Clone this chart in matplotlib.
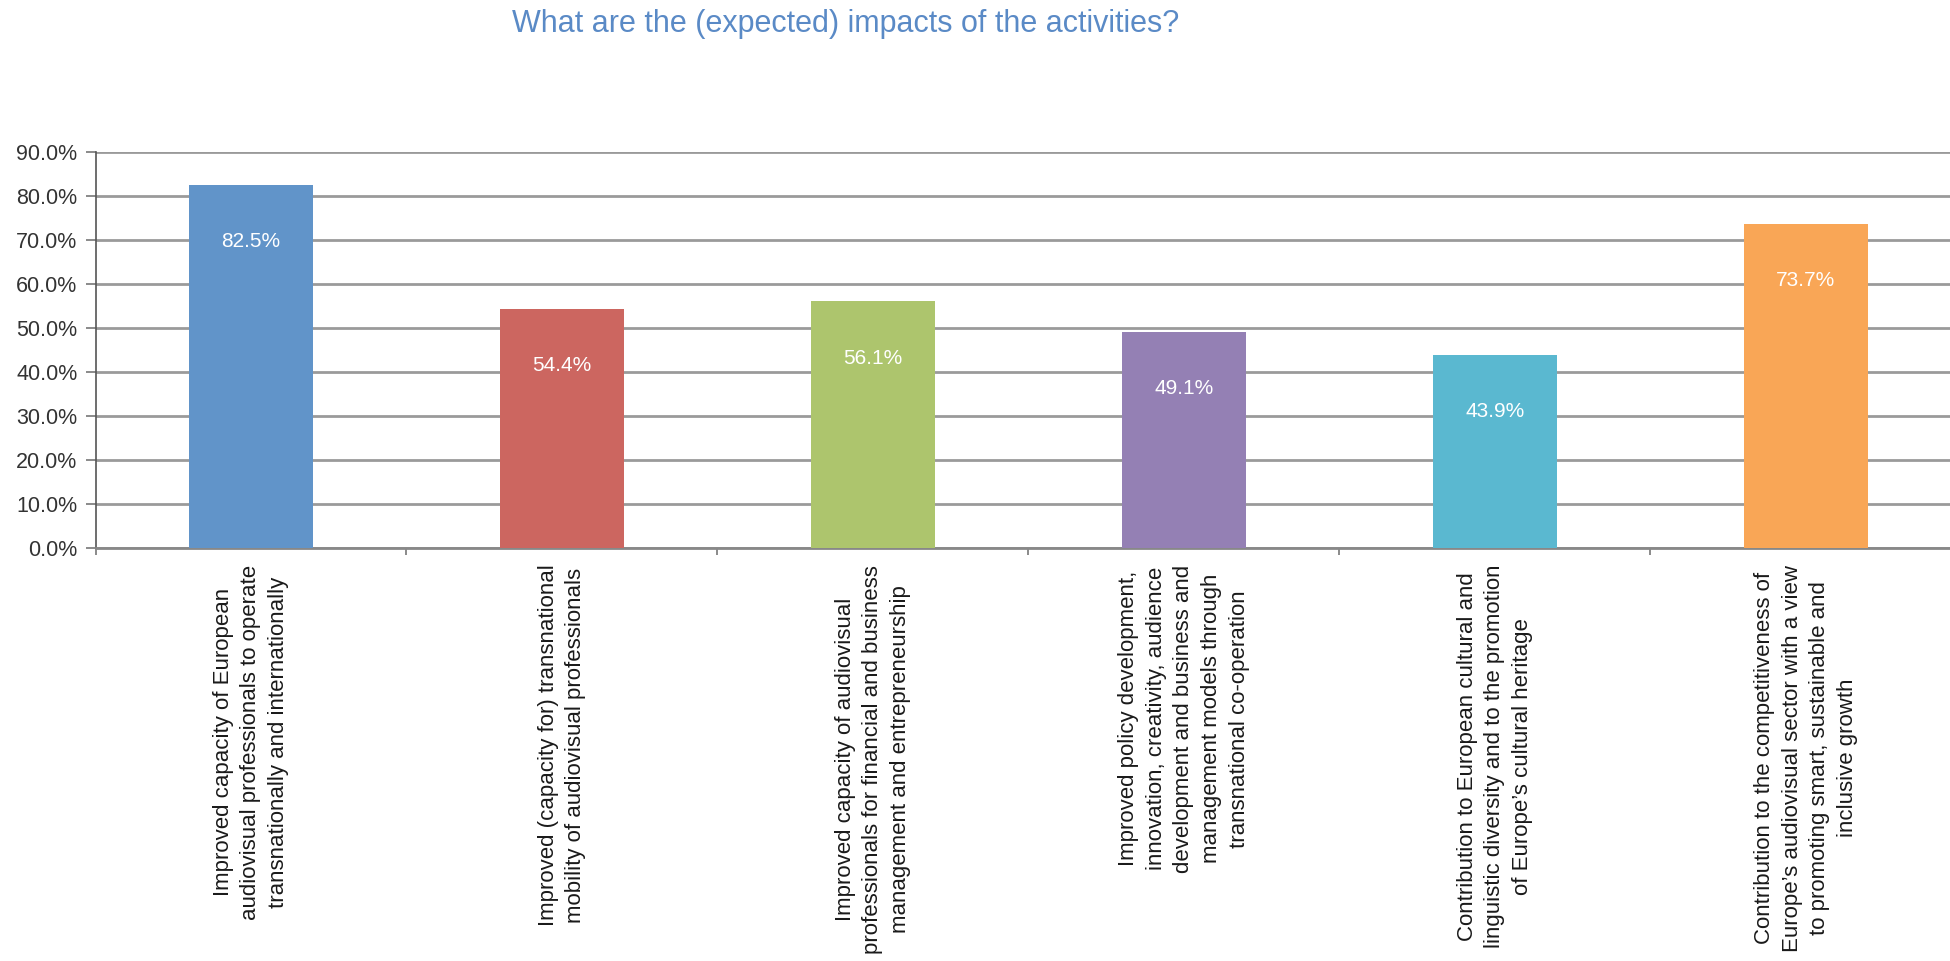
import matplotlib.pyplot as plt
import numpy as np

plt.rcParams['font.family'] = ['Liberation Sans', 'DejaVu Sans']

categories = [
    'Improved capacity of European\naudiovisual professionals to operate\ntransnationally and internationally',
    'Improved (capacity for) transnational\nmobility of audiovisual professionals',
    'Improved capacity of audiovisual\nprofessionals for financial and business\nmanagement and entrepreneurship',
    'Improved policy development,\ninnovation, creativity, audience\ndevelopment and business and\nmanagement models through\ntransnational co-operation',
    'Contribution to European cultural and\nlinguistic diversity and to the promotion\nof Europe\u2019s cultural heritage',
    'Contribution to the competitiveness of\nEurope\u2019s audiovisual sector with a view\nto promoting smart, sustainable and\ninclusive growth',
]
values = [82.5, 54.4, 56.1, 49.1, 43.9, 73.7]
colors = ['#6194c9', '#cc6660', '#adc56d', '#9480b4', '#5ab8d0', '#f9a656']
yticks = np.arange(0, 91, 10)

fig = plt.figure(figsize=(19.5, 9.61), dpi=100)
ax = fig.add_axes([95.5/1950, 1-548/961, 1866/1950, 396/961])

x = np.arange(len(values))
bars = ax.bar(x, values, width=0.4, color=colors, zorder=3)

# value labels sit inside the top of each bar
for xi, v in zip(x, values):
    ax.annotate(f'{v:.1f}%', (xi, v), xytext=(0, -41), textcoords='offset points',
                ha='center', va='center', color='white', fontsize=15, zorder=4)

ax.set_xlim(-0.5, len(values)-0.5)
ax.set_ylim(0, 90)
ax.set_yticks(yticks)
ax.set_yticklabels([f'{t:.1f}%' for t in yticks], fontsize=15.5, color='#333333')
ax.yaxis.grid(True, color='#9a9a9a', linewidth=2, zorder=0)
ax.set_axisbelow(True)

ax.set_xticks(x)
ax.set_xticklabels(categories, rotation=90, fontsize=16, color='#1a1a1a',
                   va='top', ha='center', multialignment='center', linespacing=1.42)
ax.tick_params(axis='x', length=0, pad=12)
ax.set_xticks(np.arange(-0.5, len(values), 1), minor=True)
ax.tick_params(axis='x', which='minor', length=5, width=1.2, color='#777777')
ax.tick_params(axis='y', length=7, width=1.2, color='#777777', pad=6)

for s in ['top', 'right']:
    ax.spines[s].set_visible(False)
ax.spines['left'].set_color('#555555')
ax.spines['left'].set_linewidth(1.2)
ax.spines['bottom'].set_color('#888888')
ax.spines['bottom'].set_linewidth(2)

fig.text(846/1950, 1-24/961, 'What are the (expected) impacts of the activities?',
         ha='center', va='center', fontsize=22, color='#5a8ac6')

fig.savefig('out.png', dpi=100)
